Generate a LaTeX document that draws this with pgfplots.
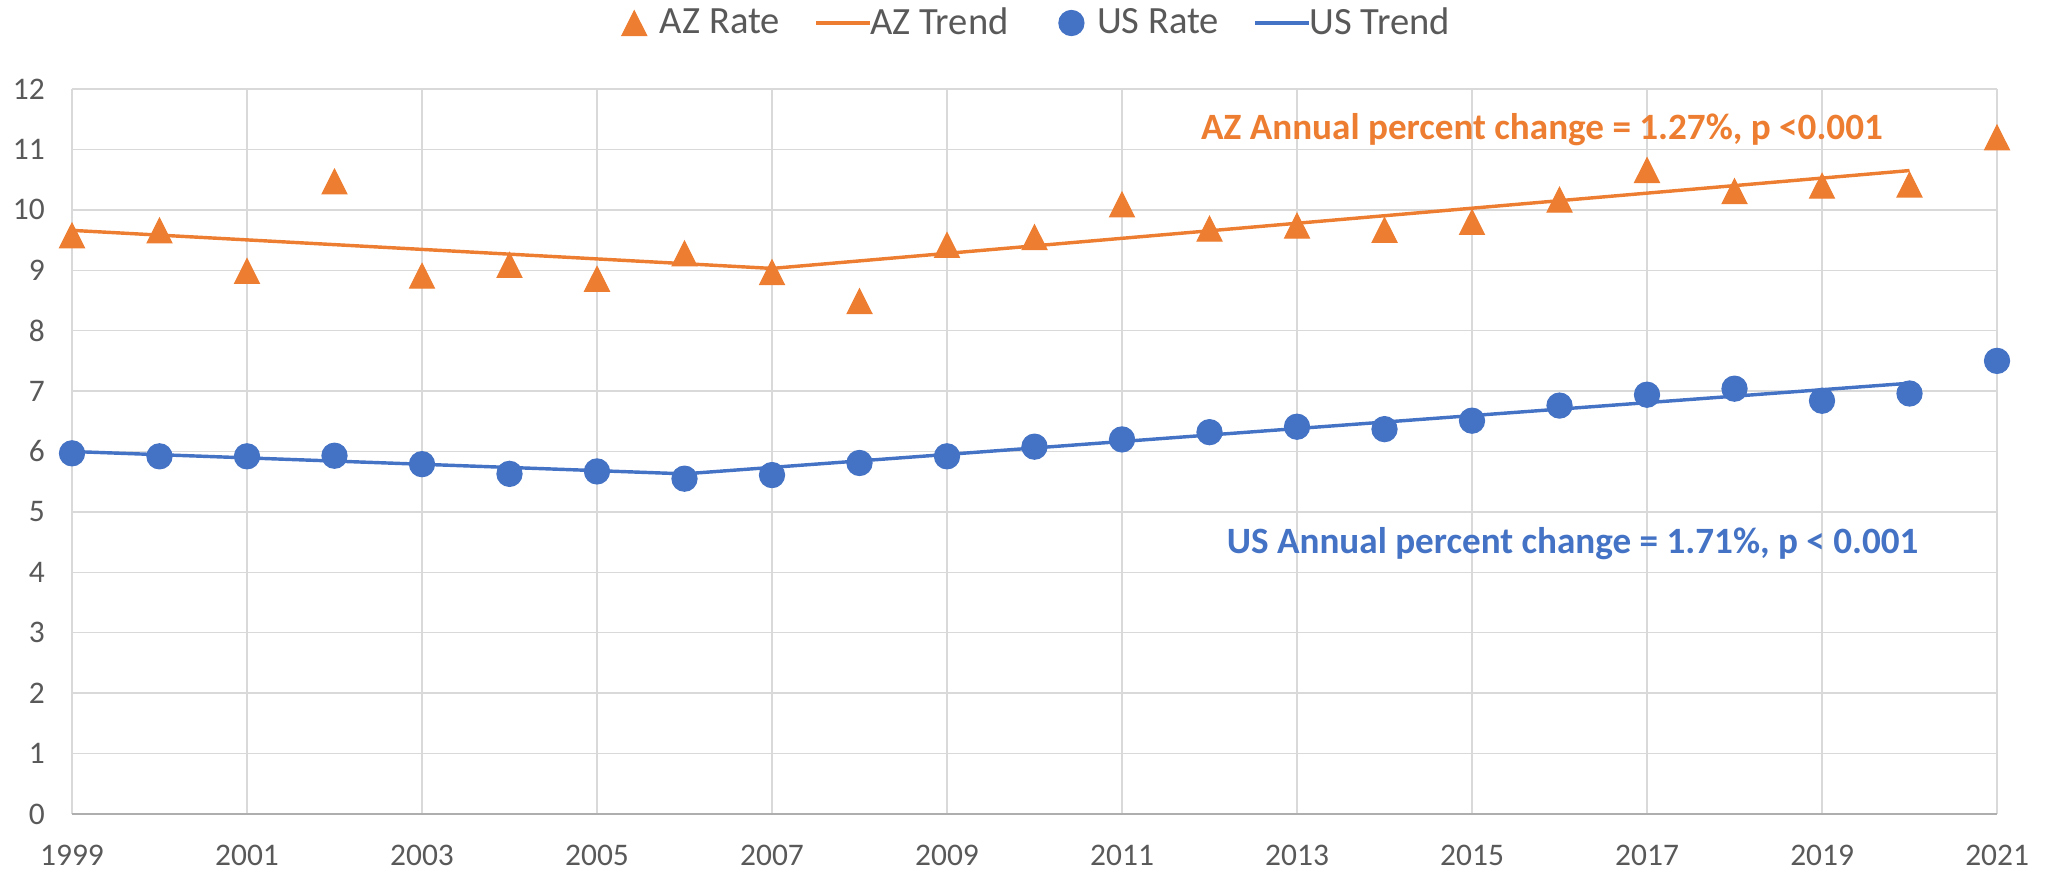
\documentclass[border=0pt]{standalone}
\usepackage{pgfplots}
\pgfplotsset{compat=1.18}
\usepackage{fontspec}
\setmainfont{Carlito}
\definecolor{azor}{HTML}{ED7D31}
\definecolor{usbl}{HTML}{4472C4}
\definecolor{gridc}{HTML}{D9D9D9}
\definecolor{txt}{HTML}{595959}
\pgfplotsset{
  linelegend/.style={legend image code/.code={\draw[##1] (0pt,0pt) -- (16.5pt,0pt); \draw[##1,overlay] (16pt,0pt) -- (19pt,0pt);}},
  marklegend/.style={legend image code/.code={\path[draw=none,fill=none] (-10pt,0pt) rectangle (7pt,0.1pt); \draw[##1] plot coordinates {(0pt,0pt)};}}
}
\begin{document}
\begin{tikzpicture}
\useasboundingbox (-25.2pt,-19.95pt) rectangle (690.9pt,284.9pt);
\begin{axis}[
  at={(0,0)}, anchor=south west,
  scale only axis,
  width=673.75pt, height=253.75pt,
  xmin=1999, xmax=2021, ymin=0, ymax=12,
  xtick={1999,2001,...,2021},
  ytick={0,1,...,12},
  /pgf/number format/assume math mode=true,
  /pgf/number format/1000 sep={},
  tick label style={font=\fontsize{11}{13}\selectfont, text=txt},
  xticklabel style={yshift=-7.5pt},
  yticklabel style={xshift=-6pt},
  major tick length=0pt,
  grid=major,
  major grid style={draw=gridc, line width=0.5pt},
  axis line style={draw=none},
  clip=false,
  legend style={draw=none, fill=none, at={(0.498,1.091)}, anchor=center,
    font=\fontsize{13.5}{16}\selectfont, text=txt,
    /tikz/every even column/.append style={column sep=10pt},
    /tikz/every odd column/.append style={column sep=0pt}},
  legend columns=4,
  legend cell align=left,
]
\addplot[only marks, mark=triangle*, mark size=5pt, mark options={fill=azor, draw=azor, yscale=1.15, yshift=-1.3pt}, color=azor, marklegend]
coordinates {
(1999,9.58) (2000,9.66) (2001,8.99) (2002,10.47) (2003,8.91) (2004,9.09)
(2005,8.86) (2006,9.28) (2007,8.97) (2008,8.49) (2009,9.42) (2010,9.55)
(2011,10.09) (2012,9.69) (2013,9.74) (2014,9.67) (2015,9.80) (2016,10.17)
(2017,10.66) (2018,10.31) (2019,10.40) (2020,10.42) (2021,11.20)
};
\addlegendentry{AZ Rate}
\addplot[azor, line width=1.2pt, no marks, linelegend]
coordinates { (1999,9.66) (2007,9.03) (2020,10.65) };
\addlegendentry{AZ Trend}
\addplot[only marks, mark=*, mark size=4.4pt, mark options={fill=usbl, draw=usbl}, color=usbl, marklegend]
coordinates {
(1999,5.97) (2000,5.92) (2001,5.92) (2002,5.93) (2003,5.79) (2004,5.63)
(2005,5.67) (2006,5.55) (2007,5.61) (2008,5.81) (2009,5.92) (2010,6.08)
(2011,6.20) (2012,6.32) (2013,6.41) (2014,6.37) (2015,6.51) (2016,6.76)
(2017,6.94) (2018,7.04) (2019,6.84) (2020,6.96) (2021,7.50)
};
\addlegendentry{US Rate}
\addplot[usbl, line width=1.2pt, no marks, linelegend]
coordinates { (1999,6.00) (2006,5.63) (2020,7.13) };
\addlegendentry{US Trend}
\draw[draw=gridc!80!black, line width=0.6pt] (axis cs:1999,0) -- (axis cs:2021,0);
\node[text=azor, font=\bfseries\fontsize{13}{15}\selectfont] at (axis cs:2015.8,11.33) {AZ Annual percent change = 1.27\%, p <0.001};
\node[text=usbl, font=\bfseries\fontsize{13}{15}\selectfont] at (axis cs:2016.15,4.48) {US Annual percent change = 1.71\%, p < 0.001};
\end{axis}
\end{tikzpicture}
\end{document}
